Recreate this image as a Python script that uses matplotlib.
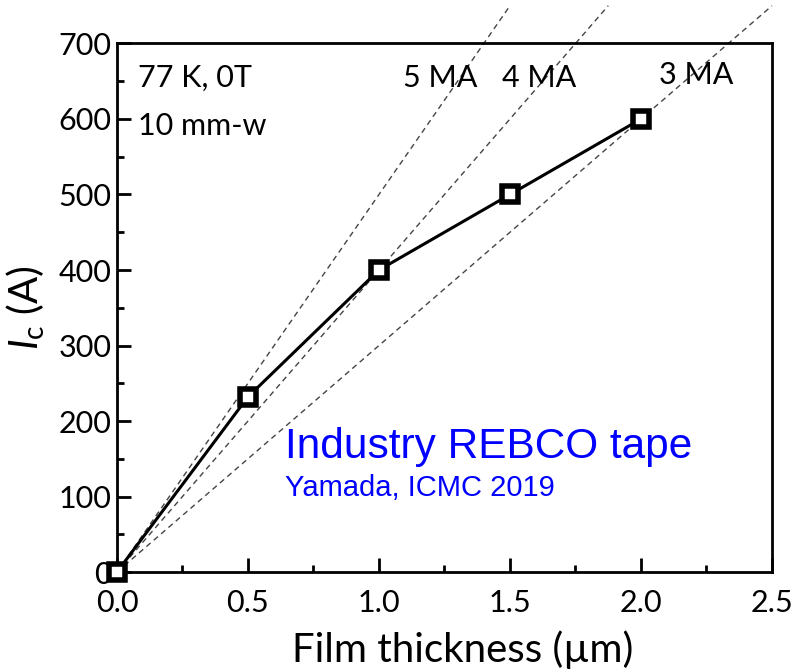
import matplotlib
matplotlib.use("Agg")
import matplotlib.pyplot as plt
import numpy as np

# film thickness (um) vs critical current (A)
thickness = [0.0, 0.5, 1.0, 1.5, 2.0]
ic = [0, 232, 400, 500, 600]

# reference Jc lines, A per um of thickness for 10 mm width
jcLabels = ["5 MA", "4 MA", "3 MA"]
jcSlopes = [500, 400, 300]
lineTop = 750

plt.rcParams['font.family'] = ['Lato', 'DejaVu Sans']
plt.rcParams['mathtext.fontset'] = 'custom'
plt.rcParams['mathtext.it'] = 'Lato:italic'
plt.rcParams['mathtext.rm'] = 'Lato'

fig = plt.figure(figsize=(8.05, 6.71), dpi=100)
ax = fig.add_axes([0.1453, 0.1475, 0.8137, 0.7877])

for s in jcSlopes:
    xEnd = lineTop / s
    ax.plot([0, xEnd], [0, lineTop], linestyle=(0, (4, 3)), color='#444444',
            linewidth=1.0, clip_on=False, zorder=1)

ax.plot(thickness, ic, color='black', linewidth=2.2, marker='s', markersize=11,
        markerfacecolor='white', markeredgecolor='black', markeredgewidth=4,
        clip_on=False, zorder=5)

ax.set_xlim(0, 2.5)
ax.set_ylim(0, 700)
ax.set_xticks(np.arange(0, 2.51, 0.5))
ax.set_xticks(np.arange(0, 2.51, 0.25), minor=True)
ax.set_yticks(np.arange(0, 701, 100))
ax.set_yticks(np.arange(0, 701, 50), minor=True)
ax.xaxis.set_major_formatter(matplotlib.ticker.FormatStrFormatter('%.1f'))
ax.tick_params(which='both', direction='in', top=False, right=False, labelsize=22, width=2)
ax.tick_params(which='major', length=10)
ax.tick_params(which='minor', length=5)
ax.tick_params(axis='x', pad=12)
ax.tick_params(axis='y', pad=4)
for sp in ax.spines.values():
    sp.set_linewidth(2)

ax.set_xlabel("Film thickness (\u00b5m)", fontsize=29)
ax.xaxis.set_label_coords(0.528, -0.11)
ax.set_ylabel(r"$I_{\mathrm{c}}$ (A)", fontsize=29, labelpad=8)

ax.text(0.08, 654, "77 K, 0T", fontsize=22, va='center')
ax.text(0.08, 591, "10 mm-w", fontsize=22, va='center')
ax.text(1.092, 654, jcLabels[0], fontsize=22, va='center')
ax.text(1.47, 654, jcLabels[1], fontsize=22, va='center')
ax.text(2.07, 658, jcLabels[2], fontsize=22, va='center')

ax.text(0.64, 165, "Industry REBCO tape", fontsize=30.5, color='#0000ff',
        va='center', family=['Liberation Sans', 'DejaVu Sans'])
ax.text(0.64, 111, "Yamada, ICMC 2019", fontsize=21, color='#0000ff',
        va='center', family=['Liberation Sans', 'DejaVu Sans'])

fig.savefig("out.png", dpi=100)
